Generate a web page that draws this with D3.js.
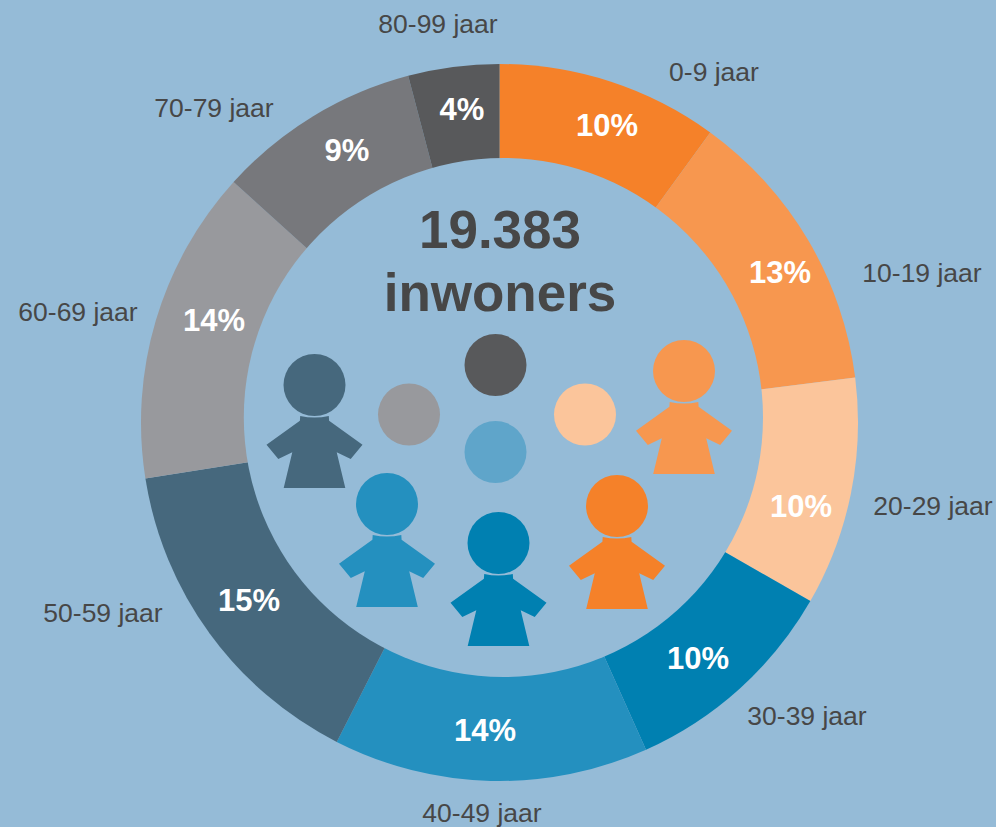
<!DOCTYPE html>
<html>
<head>
<meta charset="utf-8">
<script src="https://cdn.jsdelivr.net/npm/d3@7"></script>
<style>
  html, body { margin: 0; padding: 0; background: #95bbd7; overflow: hidden; }
  text { font-family: "Liberation Sans", Arial, sans-serif; }
  .naam { font-size: 26.5px; fill: #474747; }
  .pct { font-size: 31px; font-weight: bold; fill: #fff; }
  .titel { font-size: 53px; font-weight: bold; fill: #474747; }
</style>
</head>
<body>
<svg id="chart" width="996" height="827"></svg>
<script>
// gegevens
const groepen = ["0-9 jaar", "10-19 jaar", "20-29 jaar", "30-39 jaar", "40-49 jaar", "50-59 jaar", "60-69 jaar", "70-79 jaar", "80-99 jaar"];
const aandeel = [10.0, 13.0, 10.3, 10.0, 14.2, 15.0, 14.2, 9.2, 4.1];
const kleuren = ["#f58129", "#f7974f", "#fbc59b", "#0080b1", "#2490bf", "#46687d", "#98999d", "#77787c", "#58595b"];
const titel = ["19.383", "inwoners"];

// plaats van de teksten
const naamPos = [[714, 72], [922, 273], [933, 506], [807, 716], [482, 813], [103, 613], [78, 312], [214, 108], [438, 24]];
const pctPos = [[607, 125], [780, 272], [801, 506], [698, 658], [485, 730], [249, 600], [214, 320], [347, 150], [462, 109]];

const WIDTH = 996, HEIGHT = 827;
const CX = 499.5, CY = 422.5;
const ACHTERGROND = "#95bbd7";

const svg = d3.select("#chart");

// ########## RING ##########
const pie = d3.pie().sort(null).value(d => d);
const arc = d3.arc().innerRadius(0).outerRadius(358.5);

svg.append("g")
  .attr("transform", `translate(${CX},${CY})`)
  .selectAll("path")
  .data(pie(aandeel))
  .enter()
  .append("path")
  .attr("d", arc)
  .attr("fill", (d, i) => kleuren[i]);

// het gat staat niet precies in het midden van de ring
svg.append("circle")
  .attr("cx", 503.4)
  .attr("cy", 417.5)
  .attr("r", 259.6)
  .attr("fill", ACHTERGROND);

svg.append("g").selectAll("text")
  .data(groepen)
  .enter()
  .append("text")
  .attr("class", "naam")
  .attr("text-anchor", "middle")
  .attr("dy", "0.35em")
  .attr("x", (d, i) => naamPos[i][0])
  .attr("y", (d, i) => naamPos[i][1])
  .text(d => d);

svg.append("g").selectAll("text")
  .data(aandeel)
  .enter()
  .append("text")
  .attr("class", "pct")
  .attr("text-anchor", "middle")
  .attr("dy", "0.35em")
  .attr("x", (d, i) => pctPos[i][0])
  .attr("y", (d, i) => pctPos[i][1])
  .text(d => d3.format(".0f")(d) + "%");

// ########## MIDDEN ##########
svg.append("g").selectAll("text")
  .data(titel)
  .enter()
  .append("text")
  .attr("class", "titel")
  .attr("text-anchor", "middle")
  .attr("x", 500)
  .attr("y", (d, i) => 248 + i * 63)
  .text(d => d);

// poppetjes: kop en lijf rond het midden van de kop
const lijf = "M-14.3,31 Q0,34 14.3,31 L14.6,35.7 L48,59.7 L36.2,74 L22.2,67.3 L30.8,103 L-30.8,103 L-22.2,67.3 L-36.2,74 L-48,59.7 L-14.6,35.7 Z";
const poppetjes = [
  { x: 684, y: 371, kleur: 1 },
  { x: 617, y: 506, kleur: 0 },
  { x: 498.5, y: 543, kleur: 3 },
  { x: 387, y: 504, kleur: 4 },
  { x: 314.5, y: 385, kleur: 5 }
];
const stippen = [
  { x: 585, y: 414.5, kleur: "#fbc59b" },
  { x: 495.5, y: 452, kleur: "#5fa5ca" },
  { x: 409, y: 414.5, kleur: "#98999d" },
  { x: 495.5, y: 365, kleur: "#58595b" }
];

const pop = svg.append("g").selectAll("g")
  .data(poppetjes)
  .enter()
  .append("g")
  .attr("transform", d => `translate(${d.x},${d.y})`)
  .attr("fill", d => kleuren[d.kleur]);

pop.append("circle").attr("r", 31);
pop.append("path").attr("d", lijf);

svg.append("g").selectAll("circle")
  .data(stippen)
  .enter()
  .append("circle")
  .attr("cx", d => d.x)
  .attr("cy", d => d.y)
  .attr("r", 31)
  .attr("fill", d => d.kleur);
</script>
</body>
</html>
